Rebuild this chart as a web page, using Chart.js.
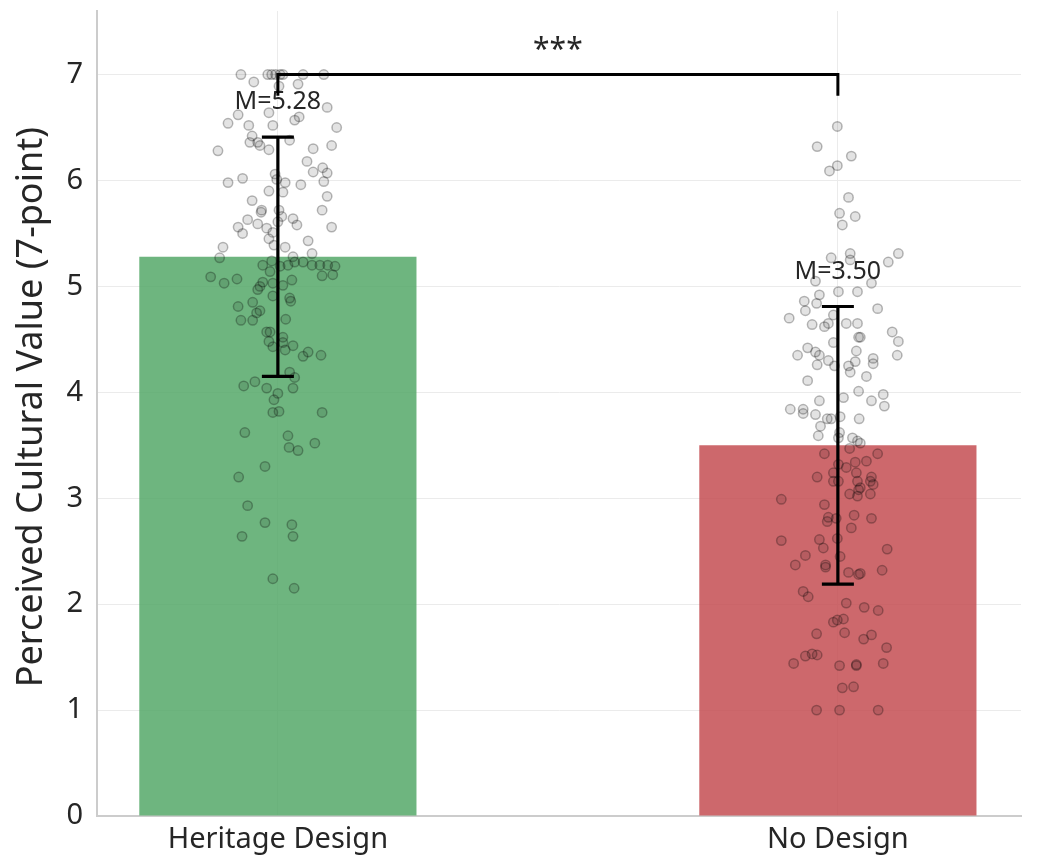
<!DOCTYPE html>
<html>
<head>
<meta charset="utf-8">
<script src="https://cdn.jsdelivr.net/npm/chart.js@4.4.1/dist/chart.umd.min.js"></script>
<style>
  html, body { margin: 0; padding: 0; background: #ffffff; }
  #wrap { width: 1037px; height: 860px; }
</style>
</head>
<body>
<div id="wrap"><canvas id="chart" width="1037" height="860"></canvas></div>
<script>
// Groups and summary statistics
const categories = ['Heritage Design', 'No Design'];
const means = [5.28, 3.50];
const sds = [1.13, 1.31];
const yTicks = [0, 1, 2, 3, 4, 5, 6, 7];
const yTitle = 'Perceived Cultural Value (7-point)';
const significance = '***';

// Individual ratings per group, with the horizontal jitter used to spread them
const heritageScores = [
  7.00,7.00,7.00,7.00,7.00,7.00,7.00,7.00,6.93,6.89,
  6.91,6.69,6.62,6.64,6.60,6.57,6.54,6.52,6.52,6.50,
  6.42,6.36,6.36,6.33,6.38,6.29,6.33,6.30,6.28,6.18,
  6.08,6.12,6.07,5.98,6.02,6.06,6.01,5.98,5.89,5.96,
  5.99,5.90,5.85,5.81,5.72,5.70,5.72,5.66,5.72,5.63,
  5.56,5.50,5.59,5.55,5.51,5.64,5.58,5.56,5.61,5.45,
  5.39,5.37,5.43,5.37,5.27,5.28,5.31,5.24,5.20,5.14,
  5.19,5.20,5.23,5.23,5.20,5.20,5.20,5.19,5.11,5.10,
  5.09,5.03,5.07,5.04,5.03,5.01,5.06,4.97,5.00,4.91,
  4.89,4.86,4.85,4.81,4.68,4.68,4.75,4.77,4.69,4.57,
  4.57,4.48,4.43,4.52,4.47,4.40,4.44,4.34,4.38,4.35,
  4.19,4.14,4.04,4.06,4.10,4.04,3.99,3.93,3.81,3.82,
  3.81,3.62,3.59,3.48,3.45,3.52,3.30,3.20,2.93,2.77,
  2.75,2.64,2.64,2.24,2.15
];
const heritageJitter = [
  -0.066,-0.018,-0.011,-0.004,0.004,0.009,0.045,0.082,-0.043,0.002,
  0.036,0.088,-0.071,-0.016,0.038,0.030,-0.089,-0.052,-0.009,0.105,
  -0.046,-0.050,-0.036,-0.032,0.021,-0.016,0.096,0.063,-0.107,0.052,
  0.063,0.080,0.088,-0.089,-0.063,-0.005,-0.002,0.013,0.009,0.041,
  0.082,-0.016,0.088,-0.046,-0.029,-0.030,0.002,0.007,0.079,-0.054,
  -0.071,-0.063,-0.036,-0.020,-0.009,0.027,0.034,0.096,0.000,-0.016,
  -0.007,0.013,0.054,-0.098,-0.104,0.027,0.061,-0.011,-0.027,-0.014,
  0.004,0.018,0.030,0.045,0.061,0.075,0.089,0.102,0.098,0.079,
  -0.120,-0.096,-0.073,-0.027,-0.009,0.009,0.025,-0.036,-0.032,-0.009,
  0.021,0.023,-0.045,-0.071,-0.066,-0.045,-0.038,-0.032,0.014,-0.020,
  -0.014,-0.016,-0.009,0.009,0.009,0.013,0.027,0.045,0.054,0.077,
  0.021,0.030,0.027,-0.061,-0.041,-0.020,0.000,-0.007,-0.009,0.002,
  0.079,-0.059,0.018,0.020,0.036,0.066,-0.023,-0.070,-0.054,-0.023,
  0.025,-0.064,0.027,-0.009,0.029
];
const noDesignScores = [
  6.51,6.32,6.23,6.14,6.09,5.84,5.69,5.66,5.58,5.27,
  5.31,5.25,5.31,5.23,5.05,5.03,4.95,4.95,4.92,4.86,
  4.77,4.84,4.70,4.73,4.79,4.64,4.62,4.65,4.65,4.65,
  4.57,4.52,4.52,4.48,4.47,4.42,4.35,4.38,4.35,4.39,
  4.35,4.30,4.26,4.25,4.25,4.29,4.19,4.32,4.27,4.15,
  4.11,4.01,3.92,3.95,3.98,3.87,3.92,3.84,3.84,3.80,
  3.79,3.75,3.75,3.77,3.75,3.68,3.59,3.62,3.57,3.57,
  3.52,3.54,3.47,3.42,3.42,3.34,3.35,3.29,3.32,3.24,
  3.20,3.24,3.16,3.20,3.13,3.16,3.16,3.16,3.08,3.10,
  3.04,3.04,2.99,2.94,3.02,2.82,2.78,2.81,2.84,2.81,
  2.72,2.60,2.61,2.53,2.62,2.52,2.46,2.37,2.37,2.35,
  2.45,2.30,2.28,2.29,2.32,2.12,2.07,2.01,1.97,1.94,
  1.83,1.85,1.86,1.72,1.73,1.67,1.71,1.59,1.51,1.53,
  1.52,1.44,1.42,1.43,1.42,1.44,1.21,1.22,1.00,1.00,
  1.00
];
const noDesignJitter = [
  -0.001,-0.037,0.024,-0.001,-0.015,0.019,0.003,0.031,0.008,-0.012,
  0.022,0.022,0.108,0.090,-0.040,0.060,0.001,0.035,-0.033,-0.060,
  -0.058,-0.038,-0.087,-0.008,0.071,-0.046,-0.024,-0.017,0.015,0.035,
  0.097,0.037,0.040,0.108,-0.008,-0.054,-0.072,-0.040,-0.033,0.033,
  0.106,-0.017,-0.037,-0.006,0.019,0.031,0.022,0.063,0.063,0.051,
  -0.054,0.037,-0.033,0.010,0.081,0.083,0.060,-0.085,-0.062,-0.062,
  -0.040,-0.019,-0.012,0.004,0.038,-0.031,-0.035,0.003,0.001,0.026,
  0.040,0.035,0.021,-0.024,0.071,0.031,0.051,0.015,0.001,-0.008,
  -0.037,0.033,0.035,0.060,0.063,0.058,-0.008,0.001,0.037,0.040,
  0.021,0.058,-0.101,-0.024,0.035,-0.017,-0.019,-0.003,0.029,0.060,
  0.024,-0.101,-0.033,-0.026,-0.001,0.088,-0.058,-0.076,-0.022,-0.022,
  0.004,0.019,0.037,0.040,0.079,-0.062,-0.053,0.015,0.047,0.072,
  -0.008,-0.001,0.010,-0.038,0.012,0.046,0.060,0.087,-0.058,-0.046,
  -0.037,-0.079,0.003,0.033,0.033,0.081,0.008,0.028,-0.038,0.003,
  0.072
];

// Styling
const FONT = '"Noto Sans", "DejaVu Sans", sans-serif';
const INK = '#262626';
const barColors = ['rgba(85,168,104,0.85)', 'rgba(196,78,82,0.85)'];
const pointFill = 'rgba(0,0,0,0.11)';
const pointEdge = 'rgba(0,0,0,0.28)';

// Bracket and annotation placement in value units
const bracketY = 7.0;
const bracketDrop = 0.2;
const starsY = 7.15;
const labelGap = 0.33;
const titleCenterY = 3.86;

function toPoints(scores, jitter, groupIndex) {
  return scores.map((v, i) => ({ x: groupIndex + jitter[i], y: v }));
}

// Error bars, mean labels, the significance bracket and the y-axis title
const overlay = {
  id: 'overlay',
  afterDatasetsDraw(chart) {
    const { ctx } = chart;
    const xs = chart.scales.x, ys = chart.scales.y;
    ctx.save();

    ctx.strokeStyle = '#000000';
    ctx.lineWidth = 3.2;
    ctx.lineCap = 'butt';
    means.forEach((m, i) => {
      const px = xs.getPixelForValue(i);
      const top = ys.getPixelForValue(m + sds[i]);
      const bot = ys.getPixelForValue(m - sds[i]);
      ctx.beginPath();
      ctx.moveTo(px, top); ctx.lineTo(px, bot);
      ctx.moveTo(px - 16, top); ctx.lineTo(px + 16, top);
      ctx.moveTo(px - 16, bot); ctx.lineTo(px + 16, bot);
      ctx.stroke();
    });

    ctx.fillStyle = INK;
    ctx.font = '25px ' + FONT;
    ctx.textAlign = 'center';
    ctx.textBaseline = 'middle';
    means.forEach((m, i) => {
      ctx.fillText('M=' + m.toFixed(2), xs.getPixelForValue(i), ys.getPixelForValue(m + sds[i] + labelGap));
    });

    const x0 = xs.getPixelForValue(0), x1 = xs.getPixelForValue(1);
    const yb = ys.getPixelForValue(bracketY), yd = ys.getPixelForValue(bracketY - bracketDrop);
    ctx.strokeStyle = '#000000';
    ctx.lineWidth = 3;
    ctx.lineJoin = 'miter';
    ctx.beginPath();
    ctx.moveTo(x0, yd); ctx.lineTo(x0, yb); ctx.lineTo(x1, yb); ctx.lineTo(x1, yd);
    ctx.stroke();

    ctx.font = '30px ' + FONT;
    ctx.textBaseline = 'alphabetic';
    ctx.fillText(significance, (x0 + x1) / 2, ys.getPixelForValue(starsY));

    // y-axis title, rotated
    ctx.translate(32, ys.getPixelForValue(titleCenterY));
    ctx.rotate(-Math.PI / 2);
    ctx.font = '36px ' + FONT;
    ctx.textBaseline = 'middle';
    ctx.fillText(yTitle, 0, 0);
    ctx.restore();
  }
};

const pointStyle = {
  type: 'scatter',
  order: 1,
  pointRadius: 4.7,
  pointBackgroundColor: pointFill,
  pointBorderColor: pointEdge,
  pointBorderWidth: 1.5,
  pointHoverRadius: 4.7
};

function noScalePadding(s) {
  s.paddingTop = 0; s.paddingBottom = 0; s.paddingLeft = 0; s.paddingRight = 0;
}

new Chart(document.getElementById('chart'), {
  type: 'bar',
  data: {
    datasets: [
      Object.assign({ label: categories[0] + ' ratings', data: toPoints(heritageScores, heritageJitter, 0) }, pointStyle),
      Object.assign({ label: categories[1] + ' ratings', data: toPoints(noDesignScores, noDesignJitter, 1) }, pointStyle),
      {
        type: 'bar',
        label: 'Mean',
        order: 2,
        data: means.map((m, i) => ({ x: i, y: m })),
        backgroundColor: barColors,
        borderWidth: 0,
        categoryPercentage: 1,
        barPercentage: 0.495
      }
    ]
  },
  options: {
    responsive: false,
    animation: false,
    devicePixelRatio: 1,
    layout: { padding: { top: 11, right: 16, left: 0, bottom: 0 } },
    plugins: { legend: { display: false }, tooltip: { enabled: false } },
    scales: {
      x: {
        type: 'linear',
        min: -0.323,
        max: 1.327,
        offset: false,
        afterBuildTicks: s => { s.ticks = categories.map((_, i) => ({ value: i })); },
        afterFit: s => { s.height = 44; noScalePadding(s); },
        ticks: {
          callback: v => categories[v] !== undefined ? categories[v] : '',
          font: { family: FONT, size: 29 },
          color: INK,
          padding: 6,
          maxRotation: 0,
          autoSkip: false
        },
        grid: { color: '#ebebeb', lineWidth: 1, drawTicks: false, offset: false },
        border: { color: '#cccccc', width: 2 }
      },
      y: {
        min: 0,
        max: 7.6,
        afterBuildTicks: s => { s.ticks = yTicks.map(v => ({ value: v })); },
        afterFit: s => { s.width = 97; noScalePadding(s); },
        ticks: {
          font: { family: FONT, size: 29 },
          color: INK,
          padding: 14
        },
        grid: { color: '#ebebeb', lineWidth: 1, drawTicks: false },
        border: { color: '#cccccc', width: 2 }
      }
    }
  },
  plugins: [overlay]
});
</script>
</body>
</html>
